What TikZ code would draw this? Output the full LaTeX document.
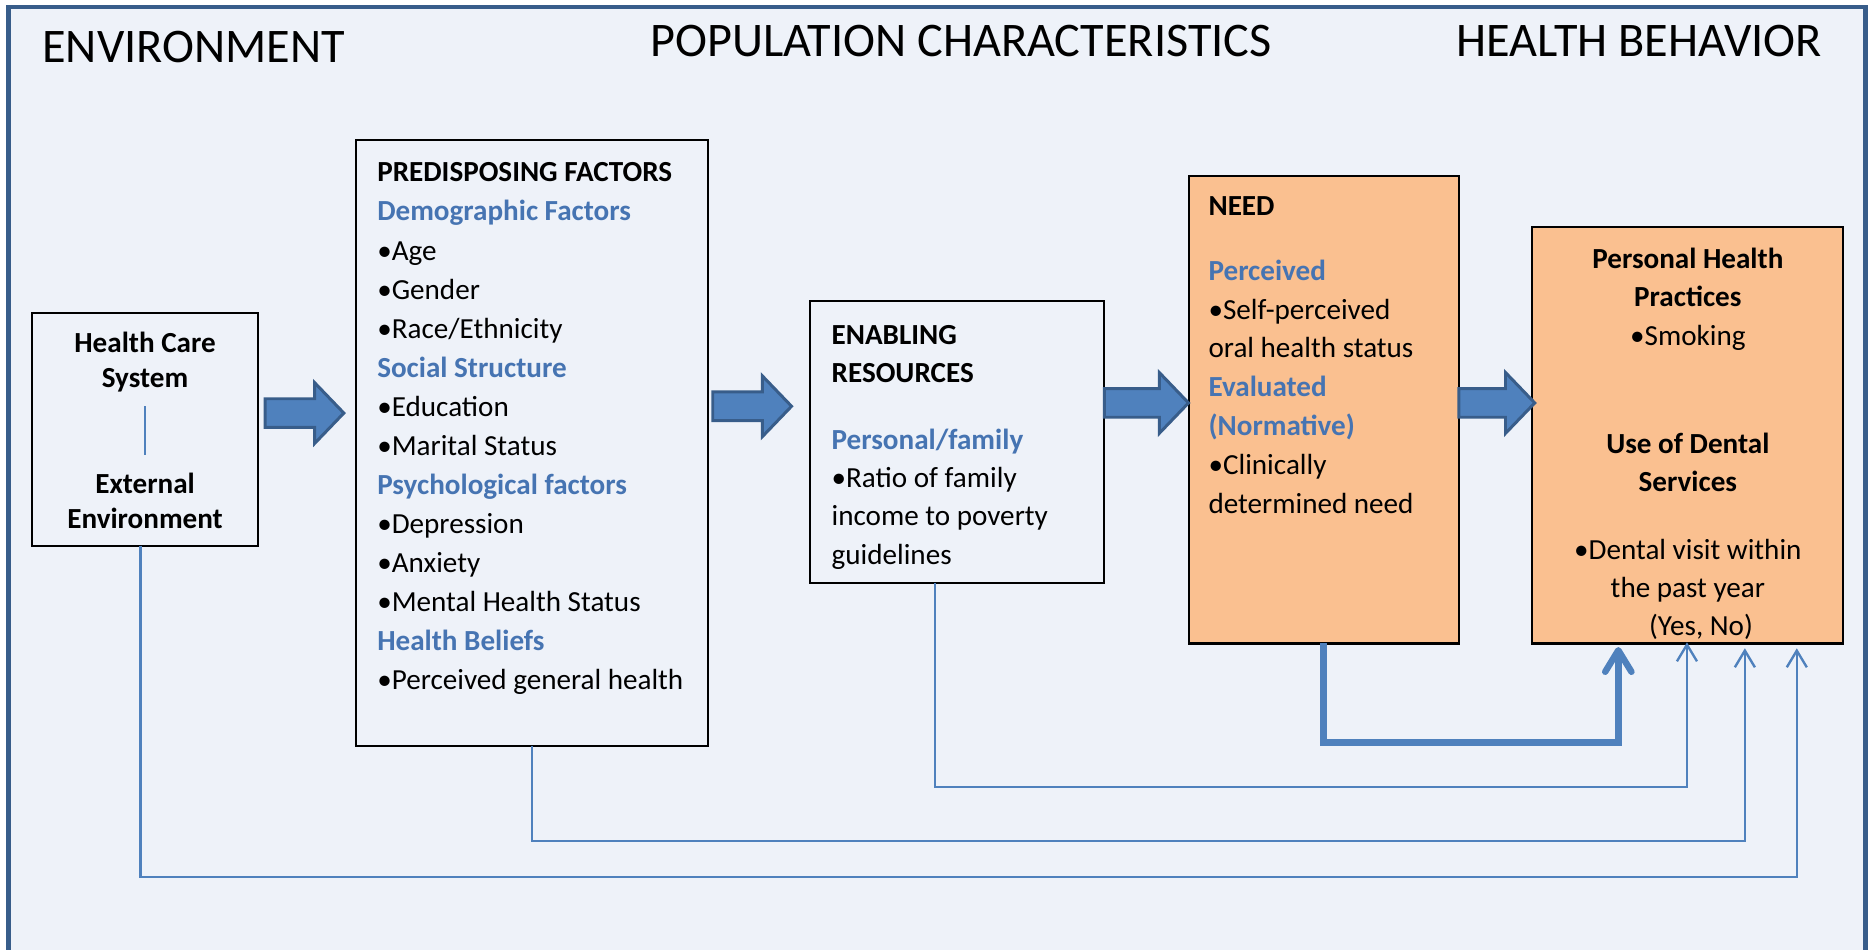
\documentclass[tikz,border=0pt]{standalone}
\usepackage{fontspec}
\setmainfont{Carlito}
\usetikzlibrary{arrows.meta,calc}
\definecolor{bgblue}{RGB}{238,242,249}
\definecolor{framec}{RGB}{56,93,138}
\definecolor{arrowfill}{RGB}{79,129,189}
\definecolor{arrowdraw}{RGB}{56,93,138}
\definecolor{headblue}{RGB}{70,116,178}
\definecolor{needfill}{RGB}{250,192,144}
\definecolor{linkblue}{RGB}{79,129,189}
\newcommand\hd[1]{\textcolor{headblue}{\textbf{#1}}}
\newcommand\blockarrow[3]{%
  \draw[barrow] (#1,#2-12) -- (#3-24.5,#2-12) -- (#3-24.5,#2-25.5) -- (#3,#2)
    -- (#3-24.5,#2+25.5) -- (#3-24.5,#2+12) -- (#1,#2+12) -- cycle;}
\begin{document}
\begin{tikzpicture}[x=0.5pt,y=-0.5pt,
  box/.style={draw=black,line width=0.85pt,inner sep=0pt,outer sep=0pt,anchor=north west},
  needbox/.style={box,fill=needfill},
  body/.style={inner sep=0pt,outer sep=0pt,align=left,anchor=north west,
    font=\fontsize{12.2}{#1}\selectfont},
  title/.style={inner sep=0pt,outer sep=0pt,font=\fontsize{20.2}{24}\selectfont},
  barrow/.style={fill=arrowfill,draw=arrowdraw,line width=1.25pt,line join=miter},
  thickconn/.style={draw=linkblue,line width=2.7pt,
    -{Straight Barb[length=9pt,width=11pt,round]}},
  thinconn/.style={draw=linkblue,line width=1pt,
    -{Straight Barb[length=7pt,width=8.4pt]}},
  divider/.style={draw=linkblue,line width=0.9pt}
]
\useasboundingbox (0,0) rectangle (1568,795);
% background and frame
\fill[bgblue] (7,6) rectangle (1562.5,810);
\draw[framec,line width=1.8pt] (7,810) -- (7,6) -- (1562.5,6) -- (1562.5,810);

% titles
\node[title,anchor=base west] (tenv) at (35.5,52.5) {ENVIRONMENT};
\node[title,anchor=base west] (tpop) at (545,47.5) {POPULATION CHARACTERISTICS};
\node[title,anchor=base east] (tbeh) at (1526,47.5) {HEALTH BEHAVIOR};

% boxes
\node[box,minimum width=94.5pt,minimum height=97.5pt] (hcs) at (27,262) {};
\node[box,minimum width=147.5pt,minimum height=254pt] (pred) at (298,117) {};
\node[box,minimum width=123pt,minimum height=118pt] (enab) at (678.5,252.5) {};
\node[needbox,minimum width=113.25pt,minimum height=195.75pt] (need) at (995.5,147.5) {};
\node[needbox,minimum width=130.25pt,minimum height=174.5pt] (beh) at (1283.5,190) {};

% health care system texts
\node[body=14.8pt,align=center,anchor=north] (hcs1) at (121.5,274.5)
  {\strut\textbf{Health Care}\\\textbf{System}\strut};
\node[body=14.8pt,align=center,anchor=north] (hcs2) at (121.5,392.6)
  {\strut\textbf{External}\\\textbf{Environment}\strut};
\draw[divider,shorten <=3.2pt,shorten >=5.7pt] (hcs1.south) -- (hcs2.north);

% predisposing
\node[body=16.35pt] (predtxt) at (316,129.5) {\strut\textbf{PREDISPOSING FACTORS}\\
  \hd{Demographic Factors}\\
  •Age\\
  •Gender\\
  •Race/Ethnicity\\
  \hd{Social Structure}\\
  •Education\\
  •Marital Status\\
  \hd{Psychological factors}\\
  •Depression\\
  •Anxiety\\
  •Mental Health Status\\
  \hd{Health Beliefs}\\
  •Perceived general health};

% enabling
\node[body=16.05pt] (enabtxt) at (696.6,266) {\strut\textbf{ENABLING}\\
  \textbf{RESOURCES}\\[11.85pt]
  \hd{Personal/family}\\
  •Ratio of family\\
  income to poverty\\
  guidelines};

% need
\node[body=16.3pt] (needtxt) at (1012.3,157.9) {\strut\textbf{NEED}\\[10.65pt]
  \hd{Perceived}\\
  •Self-perceived\\
  oral health status\\
  \hd{Evaluated}\\
  \hd{(Normative)}\\
  •Clinically\\
  determined need};

% health behavior
\node[body=16.05pt,align=center,anchor=north] (behtxt) at (1413.75,202.4)
  {\strut\textbf{Personal Health}\\
  \textbf{Practices}\\
  •Smoking\\[29.3pt]
  \textbf{Use of Dental}\\
  \textbf{Services}\\[12.15pt]
  •Dental visit within\\
  the past year\\
  \hspace*{11pt}(Yes, No)};

% block arrows
\blockarrow{222}{346}{288}
\blockarrow{597}{340.3}{663}
\blockarrow{925}{337.5}{995.5}
\blockarrow{1222}{337.5}{1285.5}

% connectors to health behavior
\coordinate (t1) at ($(need.south west)+(113,0)$);
\coordinate (t2) at ($(beh.south west)+(72,3)$);
\draw[thickconn] (t1) -- ++(0,83) -| (t2);

\coordinate (e1) at ($(enab.south west)+(104.5,0)$);
\coordinate (e2) at ($(beh.south west)+(129.5,-1)$);
\draw[thinconn] (e1) -- ++(0,170.5) -| (e2);

\coordinate (p2) at ($(beh.south west)+(178,4)$);
\draw[thinconn] (pred.south) -- ++(0,79.5) -| (p2);

\coordinate (h1) at ($(hcs.south)+(-3.7,0)$);
\coordinate (h2) at ($(beh.south west)+(221.5,4)$);
\draw[thinconn] (h1) -- ++(0,277.5) -| (h2);
\end{tikzpicture}
\end{document}
